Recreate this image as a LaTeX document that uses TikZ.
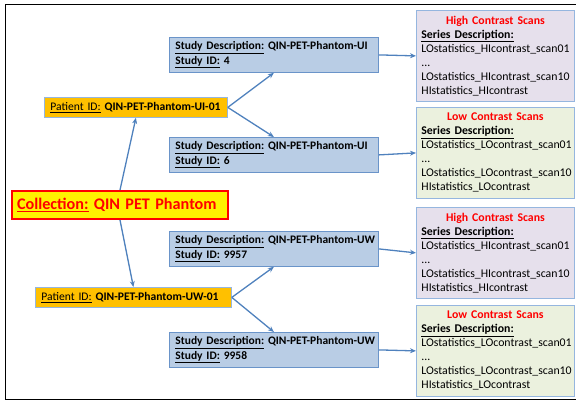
\documentclass[tikz,border=0pt]{standalone}
\usepackage{fontspec}
\setmainfont{Carlito}
\usepackage{xcolor}
\usetikzlibrary{arrows.meta,positioning}
\definecolor{arrowblue}{HTML}{4F81BD}
\definecolor{studyfill}{HTML}{B9CDE5}
\definecolor{studyline}{HTML}{6A94C9}
\definecolor{patfill}{HTML}{FFC000}
\definecolor{lightline}{HTML}{95B6DF}
\definecolor{hifill}{HTML}{E6E0EC}
\definecolor{lofill}{HTML}{EBF1DE}
\definecolor{titlered}{HTML}{FF0000}

\begin{document}
\begin{tikzpicture}[x=1pt,y=-1pt,
    box/.style={anchor=north west,inner xsep=6pt,inner ysep=2pt,align=left},
    collbox/.style={box,fill=yellow,draw=red,line width=2pt,text=titlered,inner xsep=5pt,
        text width=206pt,minimum height=28pt,font=\fontsize{16.2}{19}\selectfont\bfseries},
    patbox/.style={box,fill=patfill,draw=lightline,line width=0.8pt,
        minimum height=20pt,font=\fontsize{11.6}{13}\selectfont},
    studybox/.style={box,fill=studyfill,draw=studyline,line width=0.8pt,
        text width=197pt,minimum height=35pt,font=\fontsize{11.5}{14.5}\selectfont\bfseries},
    seriesbox/.style={box,draw=lightline,line width=0.8pt,inner xsep=5pt,
        text width=148pt,minimum height=91pt,font=\fontsize{11.8}{14}\selectfont},
    conn/.style={-{Stealth[length=6pt,width=5pt]},draw=arrowblue,line width=1.3pt}]
    \useasboundingbox (0,0) rectangle (576,401);

    % frame
    \draw[line width=1pt] (576,5) -- (5,5) -- (5,399) -- (576,399);

    % Collection
    \node[collbox] (coll) at (11,190) {\mbox{\underline{Collection:} QIN PET Phantom}};

    % Patients
    \node[patbox,text width=171pt] (pui) at (44,97)
        {\mbox{\underline{Patient ID:} \textbf{QIN-PET-Phantom-UI-01}}};
    \node[patbox,text width=184pt] (puw) at (35,287)
        {\mbox{\underline{Patient ID:} \textbf{QIN-PET-Phantom-UW-01}}};

    % Studies
    \node[studybox] (s4) at (169,37)
        {\mbox{\underline{Study Description:} QIN-PET-Phantom-UI}\\\underline{Study ID:} 4};
    \node[studybox] (s6) at (169,137)
        {\mbox{\underline{Study Description:} QIN-PET-Phantom-UI}\\\underline{Study ID:} 6};
    \node[studybox] (s9957) at (169,231)
        {\mbox{\underline{Study Description:} QIN-PET-Phantom-UW}\\\underline{Study ID:} 9957};
    \node[studybox] (s9958) at (169,332)
        {\mbox{\underline{Study Description:} QIN-PET-Phantom-UW}\\\underline{Study ID:} 9958};

    % Series
    \node[seriesbox,fill=hifill] (hiui) at (416,10)
        {{\centering\color{titlered}\bfseries High Contrast Scans\par}
         \textbf{\underline{Series Description:}}\\
         LOstatistics\_HIcontrast\_scan01\\...\\
         LOstatistics\_HIcontrast\_scan10\\HIstatistics\_HIcontrast};
    \node[seriesbox,fill=lofill] (loui) at (416,107)
        {{\centering\color{titlered}\bfseries Low Contrast Scans\par}
         \textbf{\underline{Series Description:}}\\
         LOstatistics\_LOcontrast\_scan01\\...\\
         LOstatistics\_LOcontrast\_scan10\\HIstatistics\_LOcontrast};
    \node[seriesbox,fill=hifill] (hiuw) at (416,207)
        {{\centering\color{titlered}\bfseries High Contrast Scans\par}
         \textbf{\underline{Series Description:}}\\
         LOstatistics\_HIcontrast\_scan01\\...\\
         LOstatistics\_HIcontrast\_scan10\\HIstatistics\_HIcontrast};
    \node[seriesbox,fill=lofill] (louw) at (416,305)
        {{\centering\color{titlered}\bfseries Low Contrast Scans\par}
         \textbf{\underline{Series Description:}}\\
         LOstatistics\_LOcontrast\_scan01\\...\\
         LOstatistics\_LOcontrast\_scan10\\HIstatistics\_LOcontrast};

    % Arrows
    \draw[conn] (coll.north) -- (pui.south);
    \draw[conn] (coll.south) -- (puw.north);
    \draw[conn] (pui.east) -- (s4.south);
    \draw[conn] (pui.east) -- (s6.north);
    \draw[conn] (puw.east) -- (s9957.south);
    \draw[conn] (puw.east) -- (s9958.north);
    \draw[conn] (s4.east) -- (hiui.west);
    \draw[conn] (s6.east) -- (loui.west);
    \draw[conn] (s9957.east) -- (hiuw.west);
    \draw[conn] (s9958.east) -- (louw.west);
\end{tikzpicture}
\end{document}
